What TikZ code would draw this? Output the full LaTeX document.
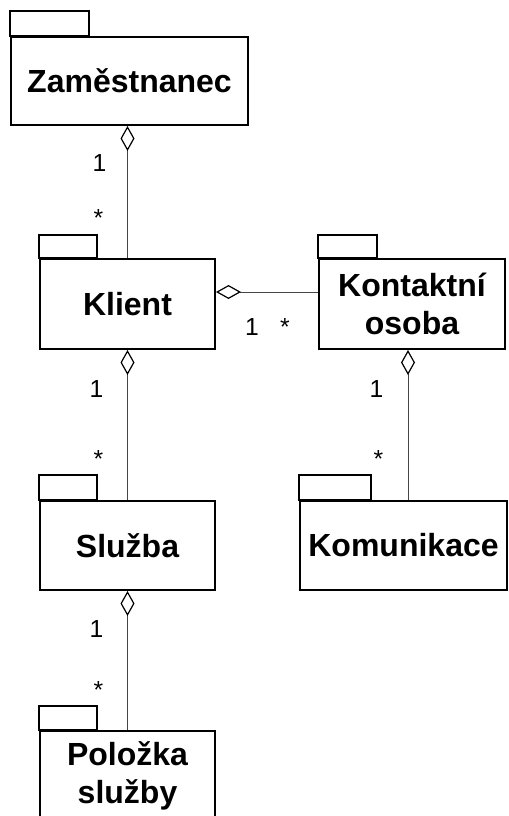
\documentclass[tikz,border=0pt]{standalone}
\usepackage{fontspec}
\setmainfont{Liberation Sans}
\usetikzlibrary{arrows.meta}

\tikzset{every picture/.style={line width=0.75pt}}
\tikzset{
  pkg/.style={draw, line width=1.5pt, inner sep=0pt, align=center, font=\fontsize{24}{29}\selectfont\bfseries},
  pkgtab/.style={draw, line width=1.5pt},
  agg/.style={color={rgb, 255:red, 70; green, 70; blue, 70 }, {Diamond[open, length=18.75pt, width=10.5pt, line width=0.9pt, color=black]}-},
  mult/.style={anchor=base, inner sep=0pt, font=\fontsize{18.5}{22}\selectfont}
}

\begin{document}
\begin{tikzpicture}[x=0.75pt,y=0.75pt,yscale=-1,xscale=1]
\useasboundingbox (0,0) rectangle (508,816);

%Shape: Package Zaměstnanec
\node[pkg, minimum width=177.75pt, minimum height=66pt] (zam) at (129.5,81) {Zaměstnanec};
\draw[pkgtab] (zam.north west) rectangle ++(79,-25);
%Shape: Package Klient
\node[pkg, minimum width=131.25pt, minimum height=67.5pt] (kl) at (127.5,304) {Klient};
\draw[pkgtab] (kl.north west) rectangle ++(58,-23);
%Shape: Package Kontaktní osoba
\node[pkg, minimum width=139.5pt, minimum height=67.5pt] (ko) at (412,304) {Kontaktní\\osoba};
\draw[pkgtab] (ko.north west) rectangle ++(59,-23);
%Shape: Package Služba
\node[pkg, minimum width=131.25pt, minimum height=66.75pt] (sl) at (127.5,545.5) {Služba};
\draw[pkgtab] (sl.north west) rectangle ++(58,-25);
%Shape: Package Komunikace
\node[pkg, minimum width=155.25pt, minimum height=66.75pt] (kom) at (403.5,545.5) {Komunikace};
\draw[pkgtab] (kom.north west) rectangle ++(72,-25);
%Shape: Package Položka služby
\node[pkg, minimum width=131.25pt, minimum height=67.5pt] (pol) at (127.5,776) {Položka\\služby};
\draw[pkgtab] (pol.north west) rectangle ++(58,-24);

%Aggregations
\draw[agg] (kl.north |- zam.south) -- (kl.north);
\draw[agg] ([yshift=-9pt]kl.east) -- ([yshift=-9pt]ko.west);
\draw[agg] (kl.south) -- (sl.north);
\draw[agg] ([xshift=-3pt]ko.south) -- ([xshift=-3pt]ko.south |- kom.north);
\draw[agg] (sl.south) -- (pol.north);

% Multiplicities
\node[mult] (m1) at (99.5,172) {1};
\node[mult] (m2) at (98.5,226.5) {*};
\node[mult] (m3) at (252,335) {1};
\node[mult] (m4) at (285,335) {*};
\node[mult] (m5) at (96.5,397) {1};
\node[mult] (m6) at (98.5,467.5) {*};
\node[mult] (m7) at (376.5,397) {1};
\node[mult] (m8) at (378.5,467.5) {*};
\node[mult] (m9) at (96.5,637) {1};
\node[mult] (m10) at (98.5,698) {*};

\end{tikzpicture}
\end{document}
